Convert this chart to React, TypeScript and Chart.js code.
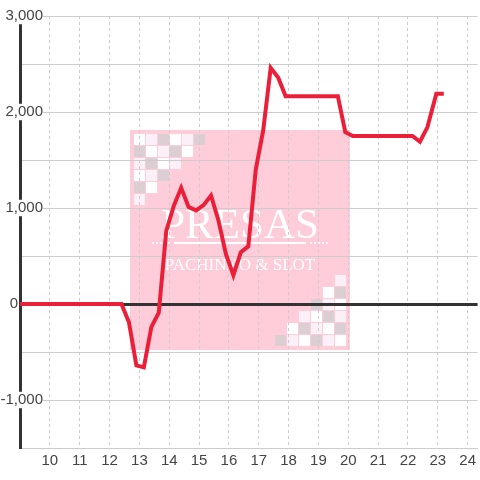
import React, { useEffect, useRef } from 'react';
import { Chart, registerables } from 'chart.js';

Chart.register(...registerables);

// Data: hour of day vs. running balance
const hours = [9, 12.4, 12.65, 12.9, 13.15, 13.4, 13.65, 13.9, 14.15, 14.4, 14.65, 14.9, 15.15, 15.4, 15.65, 15.9, 16.15, 16.4, 16.65, 16.9, 17.15, 17.4, 17.65, 17.9, 19.65, 19.9, 20.15, 22.15, 22.4, 22.65, 22.95, 23.2];
const balance = [0, 0, -190, -640, -660, -240, -90, 760, 1020, 1210, 1010, 975, 1030, 1130, 870, 520, 300, 540, 600, 1400, 1810, 2460, 2360, 2165, 2165, 1790, 1750, 1750, 1690, 1840, 2190, 2190];

const xMin = 9;
const xMax = 24.333;
const yMin = -1500;
const yMax = 3000;
const yStep = 500;
const yLabelStep = 1000;

const watermarkTitle = 'PRESAS';
const watermarkSubtitle = 'PACHINKO & SLOT';

const watermark = {
  id: 'watermark',
  beforeDraw(chart: any) {
    const ctx = chart.ctx as CanvasRenderingContext2D;
    const cx = chart.width / 2;
    const cy = chart.height / 2;
    const size = 220;
    const left = cx - size / 2;
    const top = cy - size / 2;
    ctx.save();
    ctx.fillStyle = '#ffccda';
    ctx.fillRect(left, top, size, size);
    const colors = ['#ffffff', '#fcf0f8', '#dccfd3'];
    for (let r = 0; r < 6; r++) {
      for (let c = 0; c < 6 - r; c++) {
        ctx.fillStyle = colors[(((c - r) % 3) + 3) % 3];
        ctx.fillRect(left + 4 + c * 12, top + 4 + r * 12, 11, 11);
        ctx.fillRect(left + size - 15 - c * 12, top + size - 15 - r * 12, 11, 11);
      }
    }
    ctx.fillStyle = '#ffffff';
    ctx.textAlign = 'center';
    ctx.textBaseline = 'alphabetic';
    ctx.font = '43px "Liberation Serif", "Times New Roman", serif';
    ctx.fillText(watermarkTitle, cx, cy - 2);
    ctx.font = '17px "Liberation Serif", "Times New Roman", serif';
    ctx.fillText(watermarkSubtitle, cx, cy + 30);
    // ornament
    ctx.fillRect(cx - 66, cy + 2, 132, 2);
    for (let i = 0; i < 5; i++) {
      ctx.beginPath();
      ctx.arc(cx - 87 + i * 4, cy + 3, 1.1, 0, Math.PI * 2);
      ctx.fill();
      ctx.beginPath();
      ctx.arc(cx + 71 + i * 4, cy + 3, 1.1, 0, Math.PI * 2);
      ctx.fill();
    }
    ctx.restore();
  },
};

export default function App() {
  const ref = useRef<HTMLCanvasElement>(null);
  useEffect(() => {
    document.body.style.margin = '0';
    Chart.defaults.font.family = '"Liberation Sans", Arial, sans-serif';
    const labelFont = '15px "Liberation Sans", Arial, sans-serif';
    const mctx = document.createElement('canvas').getContext('2d') as CanvasRenderingContext2D;
    mctx.font = labelFont;
    const widest = Math.max(
      ...[yMin, yMax].map(() => 0),
      ...Array.from({ length: Math.round((yMax - yMin) / yLabelStep) + 1 }, (_, i) => {
        const v = Math.ceil(yMin / yLabelStep) * yLabelStep + i * yLabelStep;
        return v <= yMax ? mctx.measureText(v === 0 ? '0      ' : v.toLocaleString('en-US')).width : 0;
      })
    );
    const labelRight = 43;
    const yAxisWidth = 20;
    const chart = new Chart(ref.current as HTMLCanvasElement, {
      type: 'line',
      data: {
        datasets: [
          {
            data: hours.map((h, i) => ({ x: h, y: balance[i] })),
            borderColor: '#ec1f38',
            borderWidth: 4,
            pointRadius: 0,
            tension: 0,
            fill: false,
          },
        ],
      },
      options: {
        animation: false,
        responsive: false,
        devicePixelRatio: 1,
        layout: { padding: { top: 16, left: 0, right: 0, bottom: 0 } },
        plugins: { legend: { display: false }, tooltip: { enabled: false } },
        scales: {
          x: {
            type: 'linear',
            min: xMin,
            max: xMax,
            afterFit: (s: any) => {
              s.height = 32;
            },
            ticks: {
              stepSize: 1,
              includeBounds: false,
              autoSkip: false,
              maxRotation: 0,
              padding: 4,
              color: '#444',
              font: { size: 15 },
              callback: (v: any) => (v === xMin ? '' : String(v)),
            },
            grid: {
              color: (c: any) => (c.tick && c.tick.value === xMin ? 'rgba(0,0,0,0)' : '#cccccc'),
              lineWidth: 1,
              drawTicks: false,
            },
            border: { color: '#cccccc', width: 1, dash: [3, 3] },
          },
          y: {
            type: 'linear',
            min: yMin,
            max: yMax,
            afterFit: (s: any) => {
              s.width = yAxisWidth;
            },
            ticks: {
              stepSize: yStep,
              autoSkip: false,
              mirror: true,
              crossAlign: 'far',
              padding: labelRight - yAxisWidth - widest,
              color: '#444',
              font: { size: 15, lineHeight: 1.1 },
              callback: (v: any) =>
                v % yLabelStep === 0 ? (v === 0 ? '0      ' : Number(v).toLocaleString('en-US')) : '',
              showLabelBackdrop: (c: any) => !!c.tick && c.tick.value % yLabelStep === 0 && c.tick.value !== 0,
              backdropColor: '#ffffff',
              backdropPadding: 0,
            } as any,
            grid: {
              color: (c: any) => (c.tick && c.tick.value === 0 ? '#333333' : '#cccccc'),
              lineWidth: (c: any) => (c.tick && c.tick.value === 0 ? 3 : 1),
              drawTicks: false,
            },
            border: { color: '#333333', width: 3 },
          },
        },
      },
      plugins: [watermark],
    });
    return () => chart.destroy();
  }, []);
  return (
    <div style={{ width: 480, height: 480 }}>
      <canvas ref={ref} width={480} height={480} style={{ display: 'block' }} />
    </div>
  );
}
